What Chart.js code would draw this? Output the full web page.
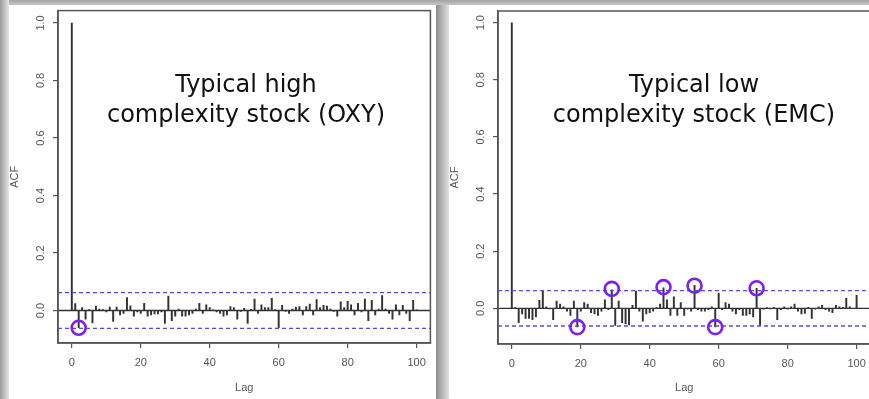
<!DOCTYPE html>
<html><head><meta charset="utf-8">
<script src="https://cdn.jsdelivr.net/npm/chart.js@4/dist/chart.umd.min.js"></script>
<style>
html,body{margin:0;padding:0;}
body{width:869px;height:399px;overflow:hidden;position:relative;background:#d6d6d6;}
#leftedge{position:absolute;left:0;top:0;width:9px;height:399px;background:linear-gradient(to right,#9a9a9a,#e6e6e6);}
#topband{position:absolute;left:0;top:0;width:869px;height:5px;background:linear-gradient(to bottom,#a4a4a4,#c6c6c6);}
#p1{position:absolute;left:9px;top:5px;width:427px;height:394px;background:#fff;}
#gap{position:absolute;left:436px;top:5px;width:13px;height:394px;background:linear-gradient(to right,#8c8c8c,#e2e2e2);}
#p2{position:absolute;left:449px;top:5px;width:420px;height:394px;background:#fff;}
canvas{position:absolute;top:0;}
#c1{left:0;}
#c2{left:440px;}
.note{position:absolute;font-family:"DejaVu Sans",Verdana,sans-serif;font-size:24px;line-height:30px;color:#111;text-align:center;white-space:nowrap;transform:translateX(-50%);}
</style>
</head><body>
<div id="topband"></div><div id="leftedge"></div>
<div id="p1"></div><div id="gap"></div><div id="p2"></div>
<canvas id="c1" width="440" height="399"></canvas>
<canvas id="c2" width="440" height="399"></canvas>
<div class="note" style="left:246px;top:69px;">Typical high<br>complexity stock (OXY)</div>
<div class="note" style="left:694px;top:69px;">Typical low<br>complexity stock (EMC)</div>
<script>
const lags = [0,1,2,3,4,5,6,7,8,9,10,11,12,13,14,15,16,17,18,19,20,21,22,23,24,25,26,27,28,29,30,31,32,33,34,35,36,37,38,39,40,41,42,43,44,45,46,47,48,49,50,51,52,53,54,55,56,57,58,59,60,61,62,63,64,65,66,67,68,69,70,71,72,73,74,75,76,77,78,79,80,81,82,83,84,85,86,87,88,89,90,91,92,93,94,95,96,97,98,99,100];

const acfOXY = [1.0,
 0.024,-0.060,0.010,-0.030,0.003,-0.043,0.015,0.005,0.003,-0.005,
 0.012,-0.038,0.012,-0.015,-0.010,0.045,0.016,-0.020,-0.005,-0.010,
 0.025,-0.020,-0.015,-0.012,-0.012,-0.005,-0.045,0.050,-0.035,-0.020,
 0.005,-0.020,-0.020,-0.015,-0.010,0.005,0.025,-0.010,0.020,0.010,
 0.002,-0.005,-0.010,-0.020,-0.015,0.014,0.010,-0.030,-0.003,0.008,
 -0.045,0.004,0.040,-0.010,0.020,0.010,0.010,0.042,0.003,-0.060,
 0.018,-0.003,-0.010,0.005,0.012,0.014,-0.015,0.014,0.022,-0.015,
 0.038,0.010,0.018,0.015,0.005,-0.003,-0.020,0.030,0.010,0.032,
 0.020,-0.015,0.025,-0.005,0.040,-0.035,0.035,-0.015,0.005,0.052,
 0.005,-0.010,-0.030,0.020,-0.015,0.018,-0.010,-0.035,0.035,0.002];

const acfEMC = [1.0,
 0.002,-0.050,-0.020,-0.035,-0.035,-0.040,-0.030,0.028,0.060,0.005,
 -0.002,-0.040,0.025,0.015,0.005,-0.010,-0.025,0.025,-0.065,-0.010,
 0.020,0.015,-0.015,-0.020,-0.025,-0.010,0.030,-0.005,0.065,-0.060,
 0.025,-0.050,-0.055,-0.058,0.010,0.060,-0.010,-0.045,-0.020,-0.015,
 -0.010,0.002,0.015,0.072,0.030,-0.025,0.040,-0.025,0.020,-0.025,
 -0.003,-0.010,0.080,-0.005,-0.010,-0.010,-0.005,0.005,-0.065,0.053,
 -0.005,0.020,0.015,-0.010,-0.020,-0.005,-0.025,-0.025,-0.020,-0.030,
 0.070,-0.060,-0.003,0.002,-0.002,0.002,-0.040,-0.005,0.005,-0.003,
 0.005,0.015,-0.010,-0.020,-0.018,0.003,-0.035,-0.003,0.005,0.010,
 -0.005,-0.010,-0.015,0.010,0.005,0.003,0.035,0.005,0.000,0.045];

const ciOXY = 0.062;
const ciEMC = 0.062;

const circLagOXY = [2];
const circYOXY = [-0.060];
const circLagEMC = [19, 29, 44, 53, 59, 71];
const circYEMC = [-0.066, 0.068, 0.074, 0.079, -0.066, 0.070];

const xTicks = [0, 20, 40, 60, 80, 100];
const yTicks = [0.0, 0.2, 0.4, 0.6, 0.8, 1.0];
const xRange = [-4, 104];
const yRangeOXY = [-0.113, 1.043];
const yRangeEMC = [-0.125, 1.041];

const boxPlugin = {
  id: 'box',
  afterDraw(chart) {
    const a = chart.chartArea, ctx = chart.ctx;
    ctx.save();
    ctx.strokeStyle = '#555';
    ctx.lineWidth = 1.5;
    ctx.strokeRect(a.left, a.top, a.right - a.left, a.bottom - a.top);
    ctx.restore();
  }
};

function makeChart(id, acf, ci, cLag, cY, yRange, padTop, padRight, xH) {
  const font = {family: '"Liberation Sans", Arial, sans-serif', size: 11};
  new Chart(document.getElementById(id), {
    type: 'bar',
    data: {
      datasets: [
        {type: 'scatter', data: cLag.map((l, i) => ({x: l, y: cY[i]})),
         pointStyle: 'circle', pointRadius: 7, pointBorderWidth: 2.6,
         pointBorderColor: '#7a1ff5', pointBackgroundColor: 'rgba(0,0,0,0)'},
        {type: 'line', data: [{x: xRange[0], y: ci}, {x: xRange[1], y: ci}],
         borderColor: '#4f4fdc', borderWidth: 1.3, borderDash: [4, 3], pointRadius: 0},
        {type: 'line', data: [{x: xRange[0], y: -ci}, {x: xRange[1], y: -ci}],
         borderColor: '#4f4fdc', borderWidth: 1.3, borderDash: [4, 3], pointRadius: 0},
        {type: 'line', data: [{x: xRange[0], y: 0}, {x: xRange[1], y: 0}],
         borderColor: '#333', borderWidth: 1.3, pointRadius: 0},
        {type: 'bar', data: lags.map((l, i) => ({x: l, y: acf[i]})),
         backgroundColor: '#333', barThickness: 1.3, borderWidth: 0}
      ]
    },
    options: {
      responsive: false, animation: false,
      layout: {padding: {left: 0, top: padTop, right: padRight, bottom: 0}},
      plugins: {legend: {display: false}, tooltip: {enabled: false}},
      scales: {
        x: {
          type: 'linear', min: xRange[0], max: xRange[1], offset: false,
          afterBuildTicks: s => { s.ticks = xTicks.map(v => ({value: v})); },
          afterFit: s => { s.height = xH; },
          grid: {display: true, offset: false, drawOnChartArea: false, tickLength: 5, color: '#555', lineWidth: 1.2},
          border: {display: true, color: '#555', width: 1.5},
          ticks: {font: font, color: '#555', padding: 8, maxRotation: 0, autoSkip: false},
          title: {display: true, text: 'Lag', font: font, color: '#555', padding: {top: 0, bottom: 4}}
        },
        y: {
          type: 'linear', min: yRange[0], max: yRange[1],
          afterBuildTicks: s => { s.ticks = yTicks.map(v => ({value: v})); },
          afterFit: s => { s.width = 58; },
          grid: {display: true, drawOnChartArea: false, tickLength: 5, color: '#555', lineWidth: 1.2},
          border: {display: true, color: '#555', width: 1.5},
          ticks: {font: font, color: '#555', padding: 4, minRotation: 90, maxRotation: 90,
                  crossAlign: 'center', autoSkip: false, callback: v => Number(v).toFixed(1)},
          title: {display: true, text: 'ACF', font: font, color: '#555', padding: {top: 8, bottom: 0}}
        }
      }
    },
    plugins: [boxPlugin]
  });
}

makeChart('c1', acfOXY, ciOXY, circLagOXY, circYOXY, yRangeOXY, 8, 6, 56);
makeChart('c2', acfEMC, ciEMC, circLagEMC, circYEMC, yRangeEMC, 11, 8, 55);
</script>
</body></html>
